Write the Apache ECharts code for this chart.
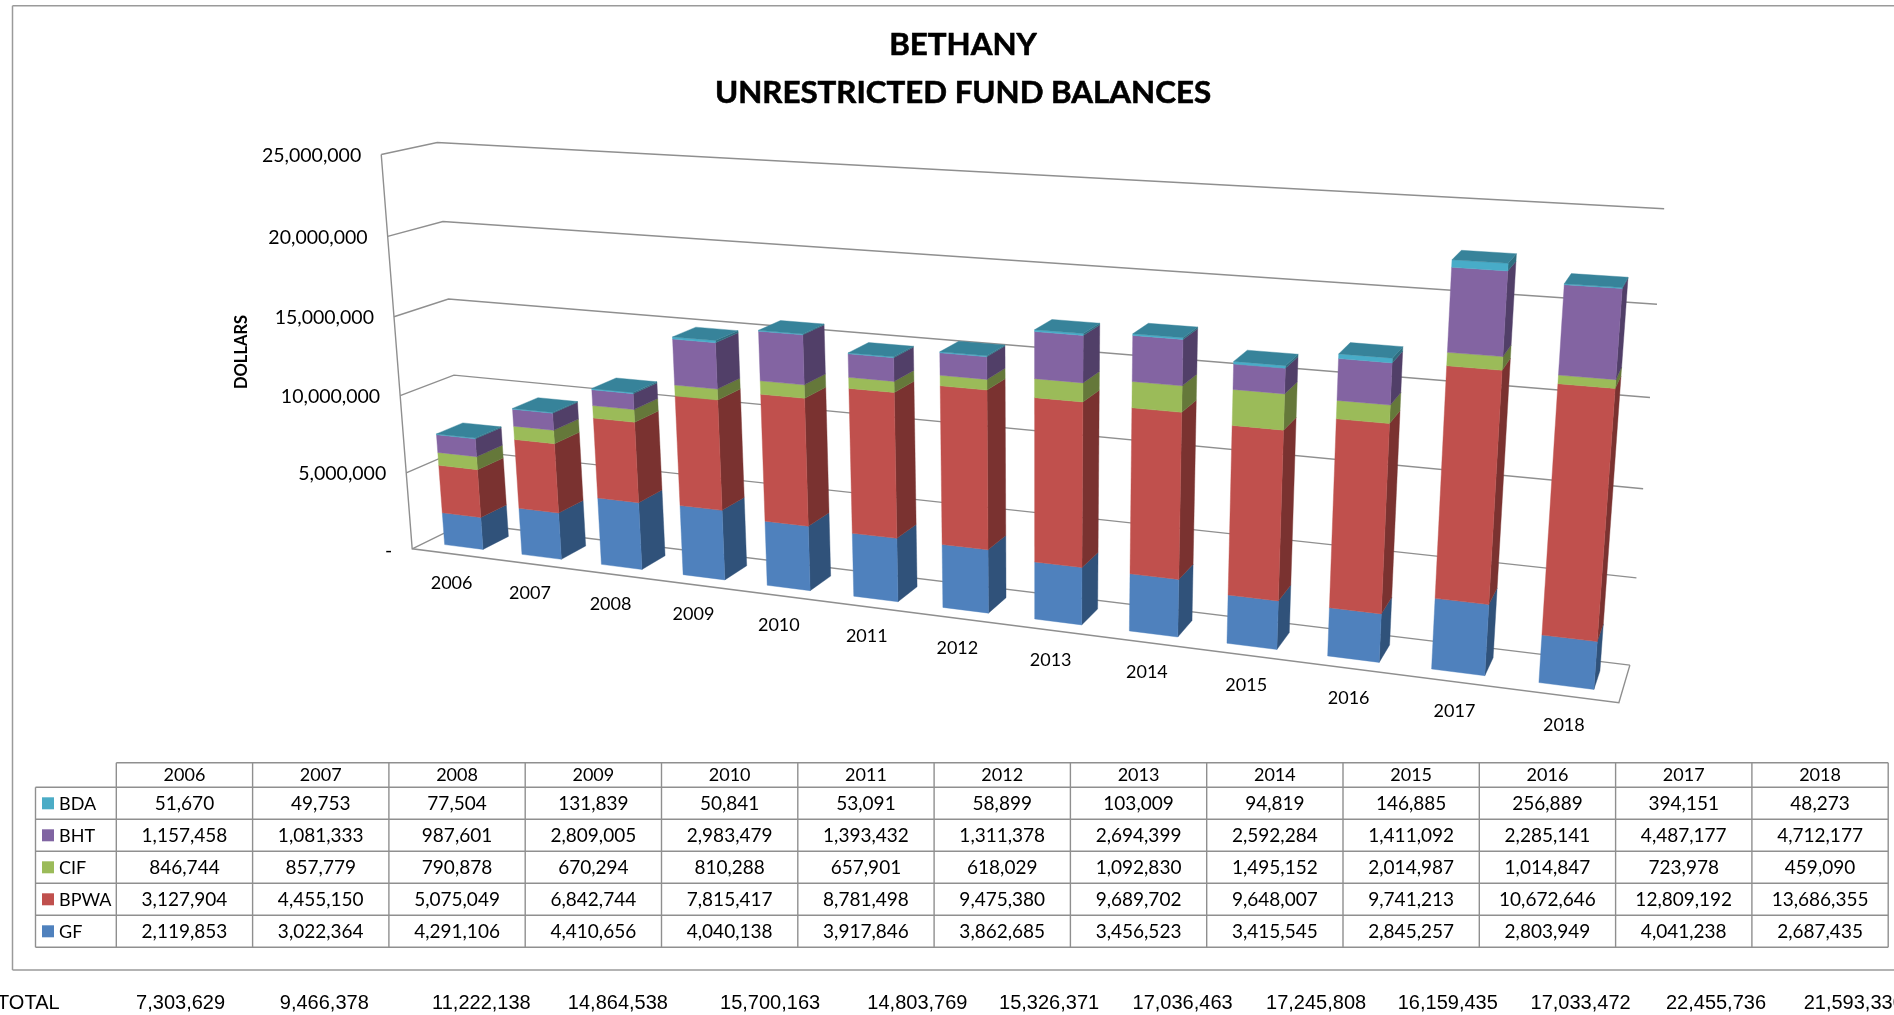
<!DOCTYPE html>
<html><head><meta charset="utf-8">
<style>html,body{margin:0;padding:0;background:#fff}#c{width:1894px;height:1015px}</style>
<script src="https://cdn.jsdelivr.net/npm/echarts@6/dist/echarts.min.js"></script>
</head><body><div id="c"></div>
<script>
const years=['2006','2007','2008','2009','2010','2011','2012','2013','2014','2015','2016','2017','2018'];
const BDA=[51670,49753,77504,131839,50841,53091,58899,103009,94819,146885,256889,394151,48273];
const BHT=[1157458,1081333,987601,2809005,2983479,1393432,1311378,2694399,2592284,1411092,2285141,4487177,4712177];
const CIF=[846744,857779,790878,670294,810288,657901,618029,1092830,1495152,2014987,1014847,723978,459090];
const BPWA=[3127904,4455150,5075049,6842744,7815417,8781498,9475380,9689702,9648007,9741213,10672646,12809192,13686355];
const GF=[2119853,3022364,4291106,4410656,4040138,3917846,3862685,3456523,3415545,2845257,2803949,4041238,2687435];
const TOTAL=[7303629,9466378,11222138,14864538,15700163,14803769,15326371,17036463,17245808,16159435,17033472,22455736,21593330];
const yTicks=[0,5000000,10000000,15000000,20000000,25000000];

// layout
const totalX=[180.6,324.3,481.4,617.9,770.1,917.4,1049.1,1182.6,1316.1,1447.8,1580.6,1716,1853.7];
const GRID={left:381,top:142,width:1283,height:561};
const BAR_HALF=0.25, V0=0.25, V1=0.75;

// camera fit: [u,v,w, px,py]
const obs=[
 [0,0,1,381.3,154.3],[0,0,.8,388,235.7],[0,0,.6,394.4,316],[0,0,.4,400.7,395.3],[0,0,.2,406.6,471.7],[0,0,0,411.8,548.3],
 [0,1,1,436.7,142.3],[0,1,.8,442.2,221.3],[0,1,.6,448.5,299.3],[0,1,.4,454.9,374.7],
 [1,1,1,1664.4,207.9],[1,1,.8,1656.8,303.2],[1,1,.6,1650,396.8],[1,1,.4,1642.8,488.6],[1,1,.2,1636.7,577.5],[1,1,0,1629.2,663.9],
 [1,0,0,1618.9,703.2]
];
function barObs(i,pts){pts.forEach(p=>{
  const u=(i+.5+(p[0]?BAR_HALF:-BAR_HALF))/13;
  obs.push([u,p[1]?V1:V0,p[2]?TOTAL[i]/25e6:0,p[3],p[4]]);});}
barObs(0,[[0,0,0,444.2,544.3],[1,0,0,483,549],[1,1,0,508.6,536.7],[0,0,1,435.5,434.3],[1,0,1,475,438.3],[1,1,1,501.9,427]]);
barObs(3,[[0,0,0,681.8,575],[1,0,0,725.3,580],[1,1,0,747,567.7],[0,0,1,672,338.3],[1,0,1,716,341.7],[1,1,1,738.8,330.7]]);
barObs(8,[[0,0,0,1128.4,630.7],[1,0,0,1178.4,637],[0,0,1,1132,334],[1,0,1,1183,339]]);
barObs(11,[[0,0,0,1431.4,668.6],[1,0,0,1485.6,675.7],[0,0,1,1451.5,260]]);
barObs(12,[[0,0,0,1538.3,681.8],[1,0,0,1595,688.2],[1,1,0,1600,672.9],[0,0,1,1564,284.6],[1,0,1,1623.1,287.5],[1,1,1,1628,277.9]]);

function fitCamera(o){
  const n=11,A=[...Array(n)].map(()=>Array(n+1).fill(0));
  const add=(r,b)=>{for(let i=0;i<n;i++){for(let j=0;j<n;j++)A[i][j]+=r[i]*r[j];A[i][n]+=r[i]*b;}};
  o.forEach(([X,Y,Z,px,py])=>{
    const x=px/1000,y=py/1000;
    add([X,Y,Z,1,0,0,0,0,-x*X,-x*Y,-x*Z],x);
    add([0,0,0,0,X,Y,Z,1,-y*X,-y*Y,-y*Z],y);
  });
  for(let c=0;c<n;c++){
    let m=c;for(let r=c+1;r<n;r++)if(Math.abs(A[r][c])>Math.abs(A[m][c]))m=r;
    [A[c],A[m]]=[A[m],A[c]];
    for(let r=0;r<n;r++){if(r===c)continue;const f=A[r][c]/A[c][c];for(let k=c;k<=n;k++)A[r][k]-=f*A[c][k];}
  }
  return A.map((row,i)=>row[n]/row[i]);
}
const P=fitCamera(obs);
function project(u,v,w){
  const d=P[8]*u+P[9]*v+P[10]*w+1;
  return [1000*(P[0]*u+P[1]*v+P[2]*w+P[3])/d,1000*(P[4]*u+P[5]*v+P[6]*w+P[7])/d];
}

const TEXT_FONT='Lato';
function wallSeries(){
  return {type:'custom',z:1,silent:true,clip:false,encode:{x:0,y:1},
    data:yTicks.map(t=>[years[0],t]),
    renderItem(params,api){
      const cs=params.coordSys,c=api.coord([api.value(0),api.value(1)]);
      const w=(cs.y+cs.height-c[1])/cs.height;
      const st={stroke:'#8f8f8f',lineWidth:1.4,fill:null};
      const pts=[project(0,0,w),project(0,1,w),project(1,1,w)];
      const ch=[{type:'polyline',shape:{points:pts},style:st}];
      if(api.value(1)===0){
        ch.push({type:'polyline',shape:{points:[project(0,0,1),project(0,0,0),project(1,0,0),project(1,1,0)]},style:st});
      }
      return {type:'group',children:ch};
    }};
}
function axisLabelSeries(){
  return {type:'custom',z:2,silent:true,clip:false,encode:{x:0,y:1},
    data:yTicks.map(t=>[years[0],t]),
    renderItem(params,api){
      const cs=params.coordSys,c=api.coord([api.value(0),api.value(1)]);
      const w=(cs.y+cs.height-c[1])/cs.height,p=project(0,0,w),v=api.value(1);
      return {type:'text',style:{x:p[0]-(v?20:20),y:p[1]+(v?1:2),text:v?v.toLocaleString('en-US'):'-',
        fill:'#000',font:'19.5px '+TEXT_FONT,align:'right',verticalAlign:'middle'}};
    }};
}
function catLabelSeries(){
  return {type:'custom',z:2,silent:true,clip:false,encode:{x:0,y:1},
    data:years.map(y=>[y,0]),
    renderItem(params,api){
      const cs=params.coordSys,c=api.coord([api.value(0),0]);
      const p=project((c[0]-cs.x)/cs.width,0,0);
      return {type:'text',style:{x:p[0]+1,y:p[1]+30,text:years[api.value(0)],
        fill:'#000',font:'18px '+TEXT_FONT,align:'center',verticalAlign:'middle'}};
    }};
}
function fundSeries(name,vals,below,colors,showTop){
  return {type:'custom',name,z:3,silent:true,clip:false,encode:{x:0,y:[1,2]},
    data:years.map((y,i)=>[y,below[i],below[i]+vals[i]]),
    renderItem(params,api){
      const cs=params.coordSys,cat=api.value(0);
      const a=api.coord([cat,api.value(1)]),b=api.coord([cat,api.value(2)]);
      const uc=(a[0]-cs.x)/cs.width,hb=api.size([1,0])[0]/cs.width*BAR_HALF;
      const w0=(cs.y+cs.height-a[1])/cs.height,w1=(cs.y+cs.height-b[1])/cs.height;
      const L=uc-hb,R=uc+hb;
      const face=(pts,fill)=>({type:'polygon',shape:{points:pts},style:{fill,stroke:fill,lineWidth:.4}});
      const ch=[
        face([project(R,V0,w0),project(R,V1,w0),project(R,V1,w1),project(R,V0,w1)],colors[1]),
        face([project(L,V0,w0),project(R,V0,w0),project(R,V0,w1),project(L,V0,w1)],colors[0])
      ];
      if(showTop)ch.push(face([project(L,V0,w1),project(R,V0,w1),project(R,V1,w1),project(L,V1,w1)],colors[2]));
      return {type:'group',children:ch};
    }};
}
const sum=(...arrs)=>years.map((_,i)=>arrs.reduce((s,a)=>s+a[i],0));
const zero=years.map(()=>0);

// table, frame, totals
const gfx=[];
const LINE='#8f8f8f';
const tabX=116.3,colW=136.3,rowY=[762.7,787.3,819.3,851.3,883.3,915.3,947.3],labX=35.5;
const line=(x1,y1,x2,y2,c,lw)=>gfx.push({type:'line',silent:true,shape:{x1,y1,x2,y2},style:{stroke:c||LINE,lineWidth:lw||1.4}});
const txt=(x,y,text,align,font)=>gfx.push({type:'text',silent:true,style:{x,y,text,align,verticalAlign:'middle',fill:'#000',font}});
line(12.5,5.7,1900,5.7,'#9a9a9a',1.5);line(12.5,5.7,12.5,970,'#9a9a9a',1.5);line(12.5,970,1900,970,'#9a9a9a',1.5);
rowY.forEach((y,r)=>line(r===0?tabX:labX,y,tabX+colW*13,y));
line(labX,rowY[1],labX,rowY[6]);
for(let c=0;c<=13;c++){const x=tabX+colW*c;line(x,rowY[0],x,rowY[6]);}
const rows=[['BDA',BDA,'#4BACC6'],['BHT',BHT,'#8064A2'],['CIF',CIF,'#9BBB59'],['BPWA',BPWA,'#C0504D'],['GF',GF,'#4F81BD']];
const TF='18px '+TEXT_FONT, VF='19px '+TEXT_FONT;
years.forEach((y,c)=>txt(tabX+colW*(c+.5),(rowY[0]+rowY[1])/2+.5,y,'center',TF));
rows.forEach((row,r)=>{
  const yc=(rowY[r+1]+rowY[r+2])/2;
  gfx.push({type:'rect',silent:true,shape:{x:42,y:yc-6,width:12,height:12},style:{fill:row[2]}});
  txt(59,yc+.5,row[0],'left',TF);
  row[1].forEach((v,c)=>txt(tabX+colW*(c+.5),yc+.5,v.toLocaleString('en-US'),'center',VF));
});
const TOT='20px "Liberation Sans"';
txt(-3,1003,'TOTAL','left',TOT);
TOTAL.forEach((v,c)=>txt(totalX[c],1003,v.toLocaleString('en-US'),'center',TOT));
gfx.push({type:'text',silent:true,rotation:Math.PI/2,x:241.5,y:352,style:{x:0,y:0,text:'DOLLARS',align:'center',verticalAlign:'middle',fill:'#000',font:'bold 16.5px '+TEXT_FONT}});

const chart=echarts.init(document.getElementById('c'));
chart.setOption({
  animation:false,backgroundColor:'#fff',
  title:{text:'BETHANY\nUNRESTRICTED FUND BALANCES',left:958,top:16,textAlign:'center',
    textStyle:{fontFamily:TEXT_FONT,fontWeight:'bold',fontSize:31.3,lineHeight:48,color:'#000',textBorderColor:'#000',textBorderWidth:.6}},
  grid:{...GRID,containLabel:false},
  xAxis:{type:'category',data:years,show:false},
  yAxis:{type:'value',min:0,max:25000000,interval:5000000,show:false},
  graphic:{elements:gfx},
  series:[
    wallSeries(),axisLabelSeries(),catLabelSeries(),
    fundSeries('GF',GF,zero,['#4F81BD','#30527A','#3A6A9A'],false),
    fundSeries('BPWA',BPWA,GF,['#C0504D','#7A3230','#9A403E'],false),
    fundSeries('CIF',CIF,sum(GF,BPWA),['#9BBB59','#65783A','#7D9748'],false),
    fundSeries('BHT',BHT,sum(GF,BPWA,CIF),['#8364A2','#513F68','#684F82'],false),
    fundSeries('BDA',BDA,sum(GF,BPWA,CIF,BHT),['#48ACC8','#2F6E80','#37839A'],true)
  ]
});
</script></body></html>
